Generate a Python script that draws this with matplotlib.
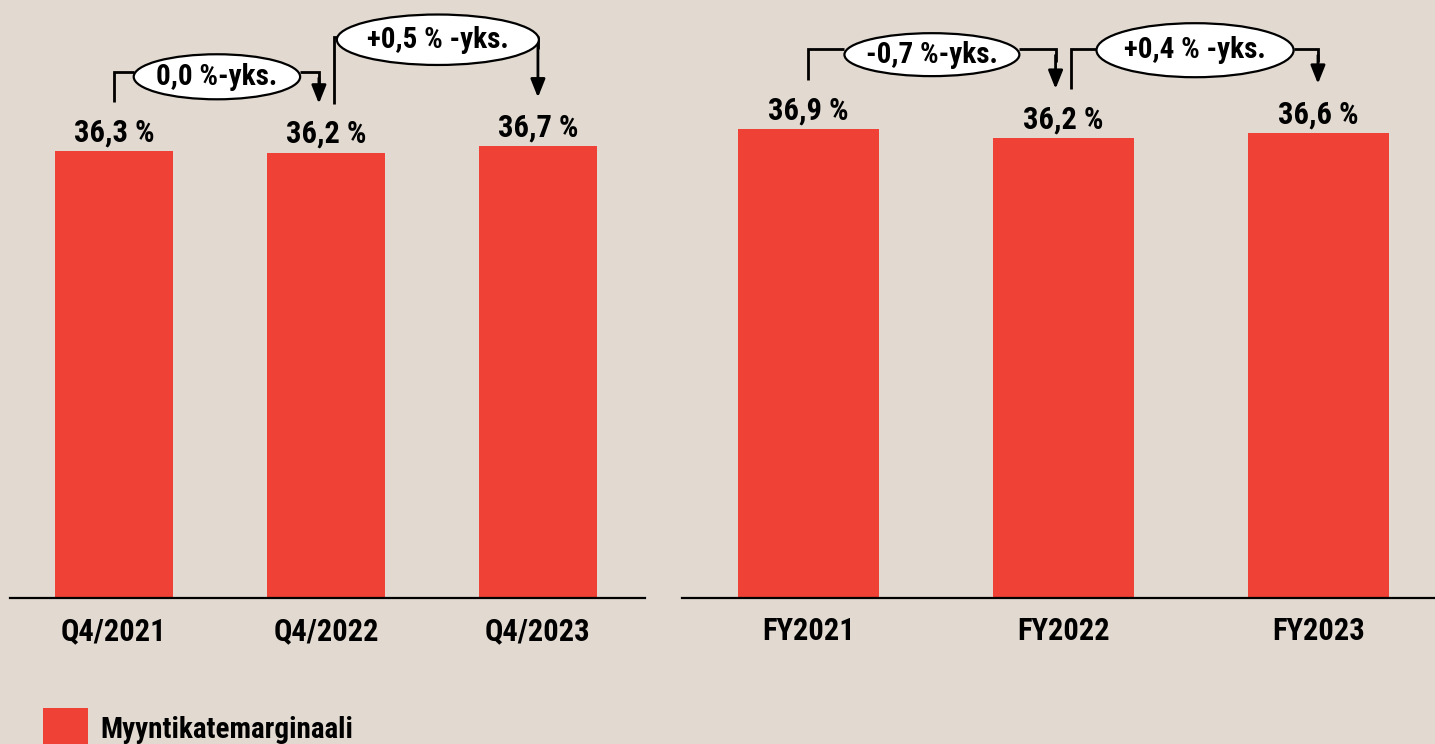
import matplotlib
matplotlib.use('Agg')
import matplotlib.pyplot as plt
from matplotlib.patches import Ellipse, Rectangle

# Data
q_labels = ['Q4/2021', 'Q4/2022', 'Q4/2023']
q_values = [36.3, 36.2, 36.7]
fy_labels = ['FY2021', 'FY2022', 'FY2023']
fy_values = [36.9, 36.2, 36.6]
q_changes = ['0,0 %-yks.', '+0,5 % -yks.']
fy_changes = ['-0,7 %-yks.', '+0,4 % -yks.']
legend_label = 'Myyntikatemarginaali'

bg = '#E2DAD1'
red = '#EF4136'
plt.rcParams['font.family'] = ['Roboto Condensed', 'Liberation Sans Narrow', 'Roboto', 'DejaVu Sans']

fig = plt.figure(figsize=(14.35, 7.44), dpi=100, facecolor=bg)


def fmt(v):
    return f'{v:.1f}'.replace('.', ',') + ' %'


def bracket(ax, x0, x1, v0, v1, gap, level, label, ecx, ecy, ew, eh):
    # left leg up to the level, ellipse with the change, then down arrow
    ax.plot([x0, x0, ecx - ew / 2], [v0 + gap, level, level], color='black', lw=2,
            solid_joinstyle='miter', solid_capstyle='butt', zorder=3)
    ax.plot([ecx + ew / 2, x1, x1], [level, level, level - 1.0], color='black', lw=2,
            solid_joinstyle='miter', solid_capstyle='butt', zorder=3)
    ax.annotate('', xy=(x1, v1 + gap), xytext=(x1, level - 0.5),
                arrowprops=dict(arrowstyle='-|>,head_length=0.5,head_width=0.2', lw=2,
                                color='black', mutation_scale=22, shrinkA=0, shrinkB=0), zorder=3)
    ax.add_patch(Ellipse((ecx, ecy), ew, eh, facecolor='white', edgecolor='black', lw=1.6, zorder=4))
    ax.text(ecx, ecy, label, ha='center', va='center', fontsize=21, fontweight='bold', zorder=5)


def panel(rect, labels, values, xlim, ylim, width):
    ax = fig.add_axes(rect)
    ax.set_facecolor(bg)
    x = range(len(values))
    ax.bar(x, values, width=width, color=red, zorder=2)
    for i, v in enumerate(values):
        ax.annotate(fmt(v), (i, v), xytext=(0, 7), textcoords='offset points',
                    ha='center', va='baseline', fontsize=22, fontweight='bold')
    ax.set_xlim(*xlim)
    ax.set_ylim(*ylim)
    ax.set_xticks(list(x))
    ax.set_xticklabels(labels, fontsize=22, fontweight='bold')
    ax.tick_params(axis='x', length=0, pad=13)
    ax.set_yticks([])
    for s in ['top', 'right', 'left']:
        ax.spines[s].set_visible(False)
    ax.spines['bottom'].set_linewidth(1.6)
    return ax


ax1 = panel([10 / 1435, 146 / 744, 635 / 1435, 598 / 744], q_labels, q_values,
            (-0.49, 2.505), (0, 48.6), 0.557)
ax2 = panel([682 / 1435, 146 / 744, 753 / 1435, 598 / 744], fy_labels, fy_values,
            (-0.496, 2.457), (0, 47.05), 0.553)

bracket(ax1, 0, 0.967, q_values[0], q_values[1], 3.98, 42.76, q_changes[0], 0.486, 42.36, 0.785, 3.66)
bracket(ax1, 1.038, 2.0, q_values[1], q_values[2], 3.98, 45.6, q_changes[1], 1.528, 45.37, 0.953, 4.1)
bracket(ax2, 0, 0.969, fy_values[0], fy_values[1], 3.86, 43.2, fy_changes[0], 0.484, 42.75, 0.686, 3.38)
bracket(ax2, 1.029, 1.998, fy_values[1], fy_values[2], 3.86, 43.2, fy_changes[1], 1.516, 43.1, 0.773, 4.25)

# Legend
fig.patches.append(Rectangle((43 / 1435, (744 - 753) / 744), 45 / 1435, 45 / 744,
                             transform=fig.transFigure, facecolor=red, edgecolor='none'))
fig.text(100 / 1435, 6 / 744, legend_label, fontsize=21, fontweight='bold', va='baseline')

fig.savefig('out.png', dpi=100, facecolor=bg)
